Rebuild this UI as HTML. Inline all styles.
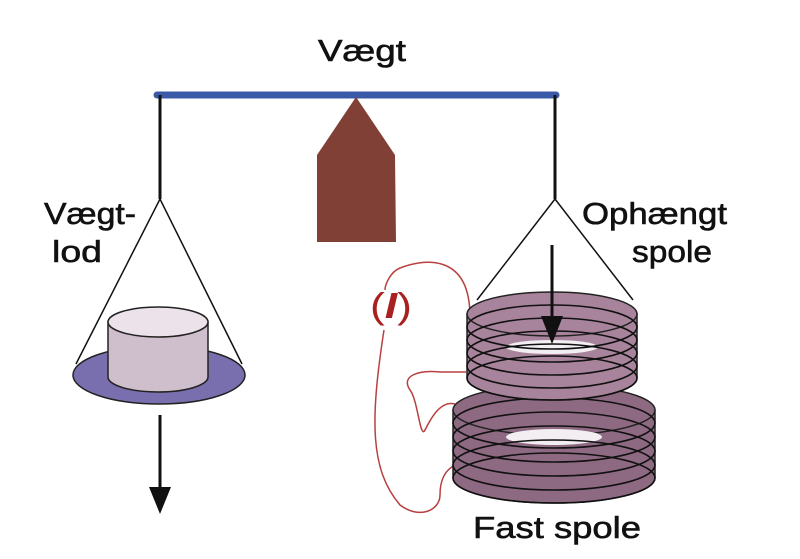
<!DOCTYPE html>
<html><head><style>html,body{margin:0;padding:0;background:#fff}svg{display:block}</style></head>
<body>
<svg width="800" height="559" viewBox="0 0 800 559" xmlns="http://www.w3.org/2000/svg">
<g font-family="Liberation Sans, sans-serif" font-size="31" fill="#111" stroke="#111" stroke-width="0.6">
<text x="318" y="61" textLength="88" lengthAdjust="spacingAndGlyphs">Vægt</text>
<text x="44" y="224" textLength="92" lengthAdjust="spacingAndGlyphs">Vægt-</text>
<text x="52" y="262" textLength="50" lengthAdjust="spacingAndGlyphs">lod</text>
<text x="582" y="224" textLength="145" lengthAdjust="spacingAndGlyphs">Ophængt</text>
<text x="632" y="262" textLength="80" lengthAdjust="spacingAndGlyphs">spole</text>
<text x="473" y="538" textLength="168" lengthAdjust="spacingAndGlyphs">Fast spole</text>
</g>
<text x="370" y="318" font-family="Liberation Sans, sans-serif" font-size="36" fill="#a82020" textLength="42" lengthAdjust="spacingAndGlyphs">(<tspan font-style="italic" font-weight="bold">I</tspan>)</text>
<line x1="157" y1="95" x2="556" y2="95" stroke="#3a5aa8" stroke-width="7" stroke-linecap="round"/>
<polygon points="356,97 395,155 396,242 317,242 317,155" fill="#804035"/>
<line x1="160" y1="95" x2="160" y2="199" stroke="#111" stroke-width="3"/>
<ellipse cx="159" cy="375" rx="86" ry="29" fill="#7a6fae" stroke="#222" stroke-width="1.5"/>
<polyline points="76,364 160,199 242,364" fill="none" stroke="#111" stroke-width="1.5"/>
<path d="M108,322 L108,377 A50,15 0 0 0 208,377 L208,322 Z" fill="#cfbfcc" stroke="#222" stroke-width="1.5"/>
<ellipse cx="158" cy="322" rx="50" ry="15" fill="#ece3ea" stroke="#222" stroke-width="1.5"/>
<line x1="160" y1="415" x2="160" y2="495" stroke="#111" stroke-width="3"/>
<polygon points="149,487 171,487 160,514" fill="#111"/>
<line x1="555" y1="95" x2="555" y2="199" stroke="#111" stroke-width="3"/>
<polyline points="477,300 555,199 633,300" fill="none" stroke="#111" stroke-width="1.5"/>
<path d="M470,317 C470,250 420,260 400,268 C390,272 385,285 385,290 M384,330 C370,420 370,470 400,505 C420,520 440,510 440,495 C440,480 445,470 455,465 M455,404 C440,400 430,420 425,430 C420,440 418,400 410,390 C400,375 420,370 440,372 L466,372" fill="none" stroke="#b84040" stroke-width="1.5"/>
<path d="M453,410 L453,478 A101,25 0 0 0 655,478 L655,410 Z" fill="#8e6a82" stroke="#222" stroke-width="1.5"/>
<ellipse cx="554" cy="410" rx="101" ry="25" fill="#8e6a82" stroke="#222" stroke-width="1.5"/>
<ellipse cx="554" cy="437" rx="48" ry="8" fill="#f2eef2"/>
<g fill="none" stroke="#111" stroke-width="1.6">
<ellipse cx="554" cy="423" rx="101" ry="25"/>
<ellipse cx="554" cy="437" rx="101" ry="25"/>
<ellipse cx="554" cy="451" rx="101" ry="25"/>
<ellipse cx="554" cy="465" rx="101" ry="25"/>
<ellipse cx="554" cy="478" rx="101" ry="25"/>
</g>
<path d="M467,314 L467,378 A85,22 0 0 0 637,378 L637,314 Z" fill="#a8849c" stroke="#222" stroke-width="1.5"/>
<ellipse cx="552" cy="314" rx="85" ry="22" fill="#a8849c" stroke="#222" stroke-width="1.5"/>
<ellipse cx="552" cy="347" rx="46" ry="7" fill="#f2eef2"/>
<g fill="none" stroke="#111" stroke-width="1.6">
<ellipse cx="552" cy="327" rx="85" ry="22"/>
<ellipse cx="552" cy="340" rx="85" ry="22"/>
<ellipse cx="552" cy="353" rx="85" ry="22"/>
<ellipse cx="552" cy="366" rx="85" ry="22"/>
<ellipse cx="552" cy="378" rx="85" ry="22"/>
</g>
<line x1="552" y1="245" x2="552" y2="322" stroke="#111" stroke-width="3"/>
<polygon points="541,316 563,316 552,344" fill="#111"/>
</svg>
</body></html>
